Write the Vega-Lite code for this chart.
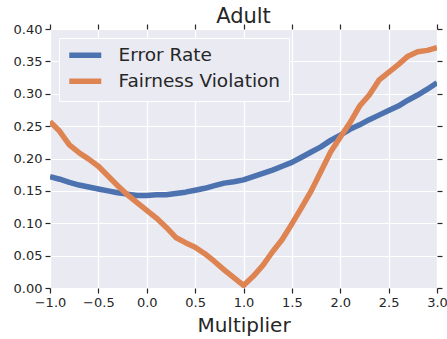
{
  "$schema": "https://vega.github.io/schema/vega-lite/v6.json",
  "width": 387,
  "height": 259,
  "autosize": {"type": "none"},
  "padding": {"left": 50, "top": 29, "right": 10, "bottom": 51},
  "background": "white",
  "config": {
    "view": {"fill": "#EAEAF2", "stroke": null},
    "font": "DejaVu Sans",
    "axis": {
      "domain": false,
      "labelFont": "DejaVu Sans",
      "labelFontSize": 13,
      "labelColor": "#262626",
      "tickColor": "#262626",
      "tickSize": 5,
      "tickWidth": 1.2,
      "gridColor": "#ffffff",
      "gridWidth": 1.2,
      "gridOpacity": 1,
      "labelPadding": 3,
      "labelFlush": false,
      "labelOverlap": false,
      "titleFont": "DejaVu Sans",
      "titleFontSize": 20,
      "titleFontWeight": "normal",
      "titleColor": "#262626"
    }
  },
  "title": {
    "text": "Adult",
    "font": "DejaVu Sans",
    "fontSize": 21,
    "fontWeight": "normal",
    "color": "#262626",
    "anchor": "middle",
    "frame": "group",
    "offset": -4
  },
  "data": {
    "values": [
      {"m": -1.0, "s": "Error Rate", "v": 0.172}, {"m": -0.9, "s": "Error Rate", "v": 0.168},
      {"m": -0.8, "s": "Error Rate", "v": 0.163}, {"m": -0.7, "s": "Error Rate", "v": 0.159},
      {"m": -0.6, "s": "Error Rate", "v": 0.156}, {"m": -0.5, "s": "Error Rate", "v": 0.153},
      {"m": -0.4, "s": "Error Rate", "v": 0.150}, {"m": -0.3, "s": "Error Rate", "v": 0.147},
      {"m": -0.2, "s": "Error Rate", "v": 0.145}, {"m": -0.1, "s": "Error Rate", "v": 0.143},
      {"m": 0.0, "s": "Error Rate", "v": 0.143}, {"m": 0.1, "s": "Error Rate", "v": 0.144},
      {"m": 0.2, "s": "Error Rate", "v": 0.144}, {"m": 0.3, "s": "Error Rate", "v": 0.146},
      {"m": 0.4, "s": "Error Rate", "v": 0.148}, {"m": 0.5, "s": "Error Rate", "v": 0.151},
      {"m": 0.6, "s": "Error Rate", "v": 0.154}, {"m": 0.7, "s": "Error Rate", "v": 0.158},
      {"m": 0.8, "s": "Error Rate", "v": 0.162}, {"m": 0.9, "s": "Error Rate", "v": 0.164},
      {"m": 1.0, "s": "Error Rate", "v": 0.167}, {"m": 1.1, "s": "Error Rate", "v": 0.172},
      {"m": 1.2, "s": "Error Rate", "v": 0.177}, {"m": 1.3, "s": "Error Rate", "v": 0.182},
      {"m": 1.4, "s": "Error Rate", "v": 0.188}, {"m": 1.5, "s": "Error Rate", "v": 0.194},
      {"m": 1.6, "s": "Error Rate", "v": 0.202}, {"m": 1.7, "s": "Error Rate", "v": 0.210},
      {"m": 1.8, "s": "Error Rate", "v": 0.218}, {"m": 1.9, "s": "Error Rate", "v": 0.228},
      {"m": 2.0, "s": "Error Rate", "v": 0.236}, {"m": 2.1, "s": "Error Rate", "v": 0.245},
      {"m": 2.2, "s": "Error Rate", "v": 0.252}, {"m": 2.3, "s": "Error Rate", "v": 0.260},
      {"m": 2.4, "s": "Error Rate", "v": 0.267}, {"m": 2.5, "s": "Error Rate", "v": 0.274},
      {"m": 2.6, "s": "Error Rate", "v": 0.281}, {"m": 2.7, "s": "Error Rate", "v": 0.290},
      {"m": 2.8, "s": "Error Rate", "v": 0.298}, {"m": 2.9, "s": "Error Rate", "v": 0.307},
      {"m": 3.0, "s": "Error Rate", "v": 0.317},
      {"m": -1.0, "s": "Fairness Violation", "v": 0.257}, {"m": -0.9, "s": "Fairness Violation", "v": 0.242},
      {"m": -0.8, "s": "Fairness Violation", "v": 0.221}, {"m": -0.7, "s": "Fairness Violation", "v": 0.209},
      {"m": -0.6, "s": "Fairness Violation", "v": 0.199}, {"m": -0.5, "s": "Fairness Violation", "v": 0.188},
      {"m": -0.4, "s": "Fairness Violation", "v": 0.173}, {"m": -0.3, "s": "Fairness Violation", "v": 0.158},
      {"m": -0.2, "s": "Fairness Violation", "v": 0.144}, {"m": -0.1, "s": "Fairness Violation", "v": 0.132},
      {"m": 0.0, "s": "Fairness Violation", "v": 0.120}, {"m": 0.1, "s": "Fairness Violation", "v": 0.108},
      {"m": 0.2, "s": "Fairness Violation", "v": 0.094}, {"m": 0.3, "s": "Fairness Violation", "v": 0.078},
      {"m": 0.4, "s": "Fairness Violation", "v": 0.070}, {"m": 0.5, "s": "Fairness Violation", "v": 0.063},
      {"m": 0.6, "s": "Fairness Violation", "v": 0.053}, {"m": 0.7, "s": "Fairness Violation", "v": 0.041},
      {"m": 0.8, "s": "Fairness Violation", "v": 0.028}, {"m": 0.9, "s": "Fairness Violation", "v": 0.016},
      {"m": 1.0, "s": "Fairness Violation", "v": 0.004}, {"m": 1.1, "s": "Fairness Violation", "v": 0.018},
      {"m": 1.2, "s": "Fairness Violation", "v": 0.035}, {"m": 1.3, "s": "Fairness Violation", "v": 0.056},
      {"m": 1.4, "s": "Fairness Violation", "v": 0.075}, {"m": 1.5, "s": "Fairness Violation", "v": 0.099},
      {"m": 1.6, "s": "Fairness Violation", "v": 0.124}, {"m": 1.7, "s": "Fairness Violation", "v": 0.150},
      {"m": 1.8, "s": "Fairness Violation", "v": 0.180}, {"m": 1.9, "s": "Fairness Violation", "v": 0.210},
      {"m": 2.0, "s": "Fairness Violation", "v": 0.233}, {"m": 2.1, "s": "Fairness Violation", "v": 0.255},
      {"m": 2.2, "s": "Fairness Violation", "v": 0.281}, {"m": 2.3, "s": "Fairness Violation", "v": 0.298},
      {"m": 2.4, "s": "Fairness Violation", "v": 0.321}, {"m": 2.5, "s": "Fairness Violation", "v": 0.333},
      {"m": 2.6, "s": "Fairness Violation", "v": 0.345}, {"m": 2.7, "s": "Fairness Violation", "v": 0.358},
      {"m": 2.8, "s": "Fairness Violation", "v": 0.365}, {"m": 2.9, "s": "Fairness Violation", "v": 0.367},
      {"m": 3.0, "s": "Fairness Violation", "v": 0.371}
    ]
  },
  "layer": [
    {
      "mark": {"type": "line", "strokeWidth": 5.5, "strokeJoin": "round", "strokeCap": "butt", "clip": true},
      "encoding": {
        "x": {
          "field": "m", "type": "quantitative",
          "scale": {"domain": [-1, 3], "nice": false, "zero": false},
          "axis": {
            "values": [-1, -0.5, 0, 0.5, 1, 1.5, 2, 2.5, 3],
            "format": ".1f",
            "grid": true,
            "title": "Multiplier",
            "titlePadding": 6
          }
        },
        "y": {
          "field": "v", "type": "quantitative",
          "scale": {"domain": [0, 0.4], "nice": false, "zero": false},
          "axis": {
            "values": [0, 0.05, 0.1, 0.15, 0.2, 0.25, 0.3, 0.35, 0.4],
            "format": ".2f",
            "grid": true,
            "title": null
          }
        },
        "color": {
          "field": "s", "type": "nominal",
          "scale": {"domain": ["Error Rate", "Fairness Violation"], "range": ["#4C72B0", "#DD8452"]},
          "legend": {
            "title": null,
            "orient": "top-left",
            "offset": 9,
            "padding": 8,
            "fillColor": "#EAEAF2",
            "strokeColor": "#ffffff",
            "symbolType": "M-4,0H4",
            "symbolSize": 64,
            "symbolOffset": 9,
            "symbolStrokeWidth": 5.5,
            "labelFont": "DejaVu Sans",
            "labelFontSize": 18.5,
            "labelLimit": 300,
            "labelColor": "#262626",
            "labelOffset": 24,
            "rowPadding": 3
          }
        }
      }
    },
    {
      "mark": {"type": "line", "strokeOpacity": 0},
      "encoding": {
        "x": {
          "field": "m", "type": "quantitative",
          "axis": {
            "orient": "top",
            "values": [-1, -0.5, 0, 0.5, 1, 1.5, 2, 2.5, 3],
            "labels": false,
            "grid": false,
            "title": null
          }
        },
        "y": {
          "field": "v", "type": "quantitative",
          "axis": {
            "orient": "right",
            "values": [0, 0.05, 0.1, 0.15, 0.2, 0.25, 0.3, 0.35, 0.4],
            "labels": false,
            "grid": false,
            "title": null
          }
        }
      }
    }
  ],
  "resolve": {"axis": {"x": "independent", "y": "independent"}}
}
